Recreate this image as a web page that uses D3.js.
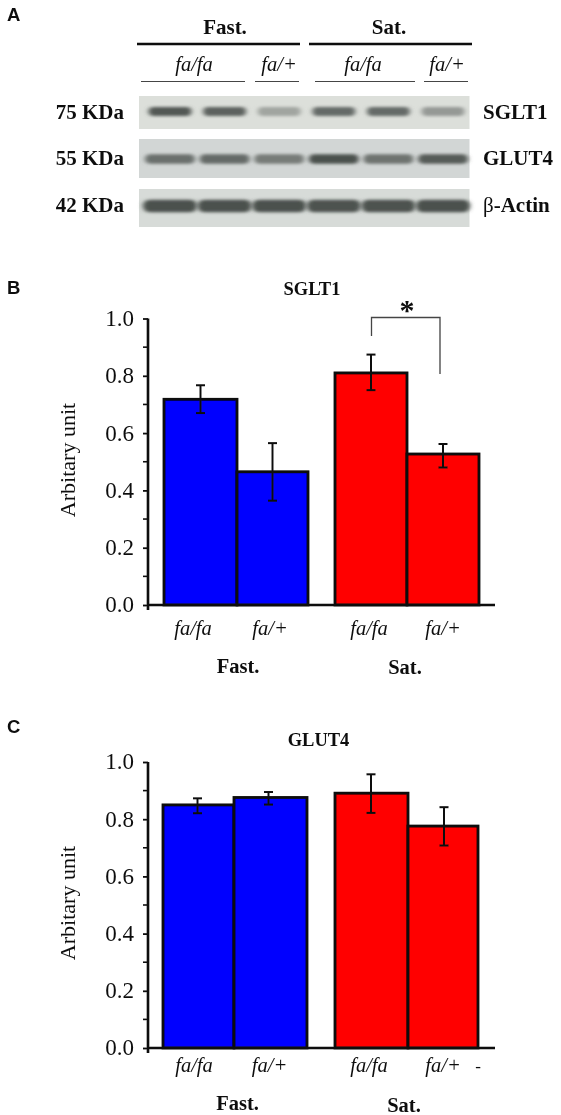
<!DOCTYPE html>
<html><head><meta charset="utf-8">
<script src="https://cdn.jsdelivr.net/npm/d3@7"></script>
<style>
html,body{margin:0;padding:0;background:#fff}
svg{display:block}
text{font-family:"Liberation Serif",serif;fill:#111}
.panel{font-family:"Liberation Sans",sans-serif;font-weight:700;font-size:18.5px}
</style></head><body>
<svg id="c" width="561" height="1115"></svg>
<script>
const groups=["Fast.","Sat."];
const genotypes=["fa/fa","fa/+"];
const sgltValues=[0.718,0.465,0.81,0.527];
const sgltLow=[0.67,0.364,0.75,0.48];
const sgltHigh=[0.767,0.565,0.874,0.562];
const glutValues=[0.85,0.876,0.891,0.776];
const glutLow=[0.821,0.851,0.822,0.708];
const glutHigh=[0.873,0.895,0.957,0.842];
const barColors=["#0000ff","#0000ff","#ff0000","#ff0000"];
const tickValues=[0,0.2,0.4,0.6,0.8,1.0];
const minorTicks=[0.1,0.3,0.5,0.7,0.9];
const barLabels=["fa/fa","fa/+","fa/fa","fa/+"];
const lanes=[0,1,2,3,4,5];
const sgltBands=[0.85,0.78,0.32,0.72,0.72,0.4];
const glutBands=[0.68,0.72,0.6,0.9,0.66,0.82];
const actinBands=[0.9,0.9,0.9,0.88,0.88,0.9];
const blotNames=["SGLT1","GLUT4","β-Actin"];
const blotSizes=["75 KDa","55 KDa","42 KDa"];

const svg=d3.select("#c");
const defs=svg.append("defs");
defs.append("filter").attr("id","soft").attr("x","-30%").attr("y","-100%").attr("width","160%").attr("height","300%")
  .append("feGaussianBlur").attr("stdDeviation","2.6 1.6");
defs.append("filter").attr("id","page").attr("filterUnits","userSpaceOnUse").attr("x",0).attr("y",0).attr("width",561).attr("height",1115)
  .append("feGaussianBlur").attr("stdDeviation","0.35");
const root=svg.append("g").attr("filter","url(#page)");

function txt(g,x,y,s,o={}){
  const t=g.append("text").attr("x",x).attr("y",y).text(s)
    .attr("text-anchor",o.anchor||"middle")
    .style("font-size",(o.size||17)+"px");
  if(o.bold)t.style("font-weight",700);
  if(o.italic)t.style("font-style","italic");
  return t;
}

/* Panel A */
const A=root.append("g");
A.append("text").attr("class","panel").attr("x",7).attr("y",21).text("A");
const laneX=d3.scalePoint().domain(lanes).range([170,443]);
const header=[[137,300,225,"Fast."],[309,472,389,"Sat."]];
header.forEach(h=>{
  A.append("line").attr("x1",h[0]).attr("x2",h[1]).attr("y1",44).attr("y2",44).attr("stroke","#111").attr("stroke-width",2.6);
  txt(A,h[2],34,h[3],{size:21,bold:true});
});
[[141,245,194,0],[255,299,279,1],[315,415,363,0],[424,468,447,1]].forEach(s=>{
  A.append("line").attr("x1",s[0]).attr("x2",s[1]).attr("y1",81.5).attr("y2",81.5).attr("stroke","#444").attr("stroke-width",1.2);
  txt(A,s[2],71,genotypes[s[3]],{size:20.5,italic:true});
});
const blots=[
 {vals:sgltBands,y0:96,y1:129,cy:111.5,h:9,w:43,bg:"#dcdfda"},
 {vals:glutBands,y0:139,y1:178,cy:159,h:9.5,w:50,bg:"#d2d6d5"},
 {vals:actinBands,y0:189,y1:227,cy:206,h:12.5,w:54,bg:"#d7dbd8"}];
blots.forEach((b,i)=>{
  const g=A.append("g");
  g.append("rect").attr("x",139).attr("y",b.y0).attr("width",330.5).attr("height",b.y1-b.y0).attr("fill",b.bg);
  const shade=d3.scaleLinear().domain([0,1]).range(["#d0d3ce","#3c423f"]);
  g.selectAll("rect.band").data(b.vals).join("rect").attr("class","band")
    .attr("x",(d,k)=>laneX(k)-b.w/2).attr("width",b.w)
    .attr("y",b.cy-b.h/2).attr("height",b.h).attr("rx",b.h/2)
    .attr("fill",d=>shade(d)).attr("filter","url(#soft)");
  const yb=[119,165,212][i];
  txt(A,124,yb,blotSizes[i],{anchor:"end",size:21,bold:true});
  if(i<2) txt(A,483,yb,blotNames[i],{anchor:"start",size:21,bold:true});
  else {
    const t=txt(A,483,yb,"",{anchor:"start",size:21,bold:true});
    t.append("tspan").style("font-weight",400).text("β");
    t.append("tspan").text("-Actin");
  }
});

/* Bar panels */
function panel(o){
  const g=root.append("g");
  g.append("text").attr("class","panel").attr("x",7).attr("y",o.letterY).text(o.letter);
  txt(g,o.titleX,o.titleY,o.title,{size:o.titleSize,bold:true});
  const y=d3.scaleLinear().domain([0,1]).range([o.y0,o.y1]);
  const edge=i=>o.edges[i];
  o.values.forEach((v,i)=>{
    g.append("rect").attr("x",edge(i)[0]).attr("width",edge(i)[1]-edge(i)[0])
      .attr("y",y(v)).attr("height",y(0)-y(v))
      .attr("fill",barColors[i]).attr("stroke","#0a0a0a").attr("stroke-width",2.8);
  });
  o.values.forEach((v,i)=>{
    const cx=(edge(i)[0]+edge(i)[1])/2+(o.errShift?o.errShift[i]:0);
    g.append("line").attr("x1",cx).attr("x2",cx).attr("y1",y(o.high[i])).attr("y2",y(o.low[i])).attr("stroke","#111").attr("stroke-width",2);
    [o.high[i],o.low[i]].forEach(w=>g.append("line").attr("x1",cx-4.5).attr("x2",cx+4.5).attr("y1",y(w)).attr("y2",y(w)).attr("stroke","#111").attr("stroke-width",2));
    txt(g,o.labelX[i],y(0)+o.labelDy,barLabels[i],{size:20.5,italic:true});
  });
  const ax=g.append("g").attr("transform",`translate(148,0)`)
    .call(d3.axisLeft(y).tickValues(tickValues).tickFormat(d3.format(".1f")).tickSize(5).tickPadding(9));
  ax.select(".domain").attr("stroke","#111").attr("stroke-width",2.6).attr("d",`M0,${y(1)}V${y(0)+5}`);
  ax.selectAll(".tick line").attr("stroke","#111").attr("stroke-width",1.8);
  ax.selectAll(".tick text").style("font-family",'"Liberation Serif",serif').style("font-size","23px").attr("fill","#222").attr("dy","0.3em");
  g.selectAll("line.minor").data(minorTicks).join("line").attr("class","minor")
    .attr("x1",143).attr("x2",148).attr("y1",d=>y(d)).attr("y2",d=>y(d)).attr("stroke","#111").attr("stroke-width",1.6);
  g.append("line").attr("x1",147).attr("x2",495).attr("y1",y(0)).attr("y2",y(0)).attr("stroke","#111").attr("stroke-width",2.6);
  g.append("text").attr("transform",`translate(${o.ylabX},${o.ylabY}) rotate(-90)`).attr("text-anchor","middle")
    .style("font-size","22px").attr("fill","#222").text("Arbitary unit");
  txt(g,o.groupX[0],y(0)+o.groupDy[0],groups[0],{size:20.5,bold:true});
  txt(g,o.groupX[1],y(0)+o.groupDy[1],groups[1],{size:20.5,bold:true});
  return {g,y};
}
const B=panel({letter:"B",letterY:294,title:"SGLT1",titleX:312,titleY:295,titleSize:18.5,
  y0:605,y1:318.5,values:sgltValues,low:sgltLow,high:sgltHigh,
  edges:[[164,237],[237,308],[335,407],[407,479]],
  labelX:[193,270,369,443],labelDy:30,groupX:[238,405],groupDy:[68,69],ylabX:75,ylabY:460});
B.g.append("path").attr("d","M371.5,336V317.5H440V374").attr("fill","none").attr("stroke","#444").attr("stroke-width",1.3);
txt(B.g,407,320,"*",{size:30,bold:true});
const C=panel({letter:"C",letterY:733,title:"GLUT4",titleX:318.5,titleY:746,titleSize:18.5,
  y0:1048,y1:762,values:glutValues,low:glutLow,high:glutHigh,
  edges:[[163,234],[234,307],[335,408],[408,478]],
  errShift:[-1,-2,-0.5,1],
  labelX:[194,269.5,369,443],labelDy:24,groupX:[237.5,404],groupDy:[62,64],ylabX:75,ylabY:903});
txt(C.g,478,1072,"-",{size:17});
</script></body></html>
